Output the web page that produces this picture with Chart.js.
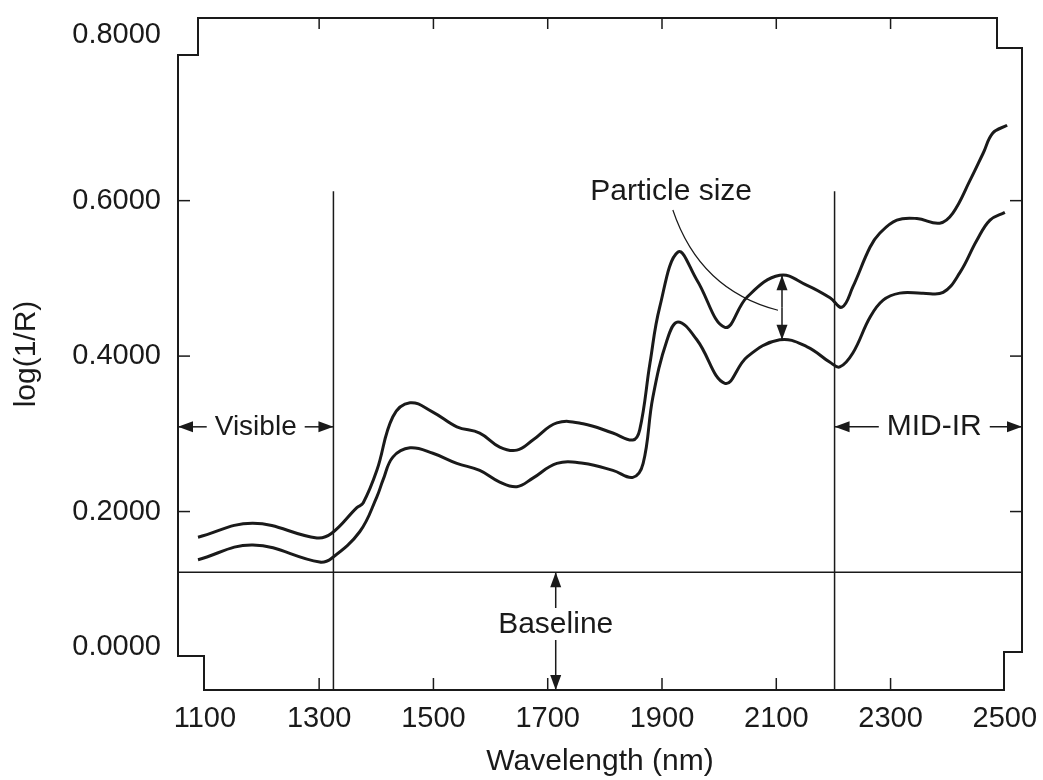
<!DOCTYPE html>
<html>
<head>
<meta charset="utf-8">
<script src="https://cdn.jsdelivr.net/npm/chart.js@4.4.1/dist/chart.umd.min.js"></script>
<style>
    body { margin: 0; background: #fff; }
    #wrap { width: 1043px; height: 780px; }
</style>
</head>
<body>
<div id="wrap"><canvas id="spectrum_canvas"></canvas></div>
<script>
// two NIR spectra of the same sample, different particle size
const upper_wavelength = [1088, 1184, 1296, 1322, 1366, 1377, 1401, 1429, 1459, 1499, 1541, 1581, 1616, 1646, 1674, 1716, 1762, 1814, 1849, 1861, 1879, 1896, 1928, 1961, 2010, 2049, 2106, 2154, 2194, 2215, 2234, 2264, 2281, 2311, 2346, 2386, 2409, 2439, 2462, 2479, 2504];
const upper_log_r = [0.167, 0.185, 0.166, 0.172, 0.205, 0.211, 0.253, 0.322, 0.340, 0.328, 0.309, 0.301, 0.283, 0.279, 0.292, 0.314, 0.313, 0.301, 0.292, 0.305, 0.391, 0.463, 0.534, 0.498, 0.437, 0.476, 0.504, 0.491, 0.475, 0.463, 0.489, 0.540, 0.558, 0.575, 0.577, 0.571, 0.584, 0.626, 0.661, 0.687, 0.697];

const lower_wavelength = [1088, 1184, 1301, 1322, 1371, 1401, 1412, 1429, 1459, 1499, 1541, 1581, 1616, 1646, 1674, 1716, 1762, 1814, 1849, 1867, 1884, 1909, 1928, 1961, 2010, 2049, 2106, 2154, 2194, 2211, 2234, 2264, 2287, 2316, 2356, 2392, 2421, 2451, 2474, 2500];
const lower_log_r = [0.138, 0.157, 0.135, 0.140, 0.174, 0.219, 0.241, 0.270, 0.282, 0.275, 0.262, 0.253, 0.238, 0.232, 0.243, 0.262, 0.262, 0.253, 0.244, 0.262, 0.347, 0.421, 0.444, 0.421, 0.365, 0.399, 0.421, 0.412, 0.392, 0.386, 0.404, 0.450, 0.472, 0.481, 0.481, 0.482, 0.507, 0.549, 0.575, 0.585];

const x_ticks = [1100, 1300, 1500, 1700, 1900, 2100, 2300, 2500];
const y_tick_labels = ["0.0000", "0.2000", "0.4000", "0.6000", "0.8000"];
// the printed labels in the original: outer two sit a bit inward of their true level
const y_tick_spots = [0.026, 0.2, 0.4, 0.6, 0.813];
const x_frame_ticks = [1300, 1500, 1700, 1900, 2100, 2300];
const y_frame_ticks = [0.2, 0.4, 0.6];

const visible_edge = 1325;
const mid_ir_edge = 2202;
const region_top = 0.612;
const baseline_level = 0.122;
const baseline_at = 1714;
const particle_at = 2110;
const particle_top = 0.504;
const particle_bottom = 0.421;

const ink = "#1a1a1a";
const font_family = "'Liberation Sans', Arial, sans-serif";

function to_points(xs, ys) {
    return xs.map((x, i) => ({x: x, y: ys[i]}));
}

function arrow_head(ctx, x, y, angle) {
    const len = 15, half = 5.5;
    ctx.save();
    ctx.translate(x, y);
    ctx.rotate(angle);
    ctx.beginPath();
    ctx.moveTo(0, 0);
    ctx.lineTo(-len, -half);
    ctx.lineTo(-len, half);
    ctx.closePath();
    ctx.fill();
    ctx.restore();
}

function arrow(ctx, x0, y0, x1, y1) {
    ctx.beginPath();
    ctx.moveTo(x0, y0);
    ctx.lineTo(x1, y1);
    ctx.stroke();
    arrow_head(ctx, x1, y1, Math.atan2(y1 - y0, x1 - x0));
}

function line(ctx, x0, y0, x1, y1) {
    ctx.beginPath();
    ctx.moveTo(x0, y0);
    ctx.lineTo(x1, y1);
    ctx.stroke();
}

const figure_marks = {
    id: "figure_marks",
    afterDatasetsDraw(chart) {
        const ctx = chart.ctx;
        const a = chart.chartArea;
        const xs = chart.scales.x;
        const ys = chart.scales.y;
        const px = v => xs.getPixelForValue(v);
        const py = v => ys.getPixelForValue(v);

        ctx.save();
        ctx.strokeStyle = ink;
        ctx.fillStyle = ink;

        // notched frame
        ctx.lineWidth = 2;
        ctx.beginPath();
        ctx.moveTo(a.left + 20, a.top);
        ctx.lineTo(a.right - 25, a.top);
        ctx.lineTo(a.right - 25, a.top + 30);
        ctx.lineTo(a.right, a.top + 30);
        ctx.lineTo(a.right, a.bottom - 38);
        ctx.lineTo(a.right - 18, a.bottom - 38);
        ctx.lineTo(a.right - 18, a.bottom);
        ctx.lineTo(a.left + 26, a.bottom);
        ctx.lineTo(a.left + 26, a.bottom - 34);
        ctx.lineTo(a.left, a.bottom - 34);
        ctx.lineTo(a.left, a.top + 37);
        ctx.lineTo(a.left + 20, a.top + 37);
        ctx.closePath();
        ctx.stroke();

        // inward ticks
        ctx.lineWidth = 1.5;
        for (const v of x_frame_ticks) {
            line(ctx, px(v), a.bottom, px(v), a.bottom - 12);
            line(ctx, px(v), a.top, px(v), a.top + 11);
        }
        for (const v of y_frame_ticks) {
            line(ctx, a.left, py(v), a.left + 12, py(v));
            line(ctx, a.right, py(v), a.right - 12, py(v));
        }

        // region dividers and baseline
        line(ctx, px(visible_edge), py(region_top), px(visible_edge), a.bottom);
        line(ctx, px(mid_ir_edge), py(region_top), px(mid_ir_edge), a.bottom);
        line(ctx, a.left, py(baseline_level), a.right, py(baseline_level));

        ctx.textBaseline = "middle";
        ctx.textAlign = "center";

        // Visible
        const vis_y = py(0.309);
        const vis_cx = (a.left + px(visible_edge)) / 2;
        ctx.font = "28px " + font_family;
        ctx.fillText("Visible", vis_cx, vis_y);
        let w = ctx.measureText("Visible").width / 2;
        arrow(ctx, vis_cx - w - 8, vis_y, a.left, vis_y);
        arrow(ctx, vis_cx + w + 8, vis_y, px(visible_edge), vis_y);

        // MID-IR
        const mid_cx = (px(mid_ir_edge) + a.right) / 2 + 6;
        ctx.font = "30px " + font_family;
        ctx.fillText("MID-IR", mid_cx, vis_y);
        w = ctx.measureText("MID-IR").width / 2;
        arrow(ctx, mid_cx - w - 8, vis_y, px(mid_ir_edge), vis_y);
        arrow(ctx, mid_cx + w + 8, vis_y, a.right, vis_y);

        // Baseline
        const bx = px(baseline_at);
        const by = py(0.054);
        ctx.fillText("Baseline", bx, by);
        arrow(ctx, bx, by - 17, bx, py(baseline_level));
        arrow(ctx, bx, by + 15, bx, a.bottom);

        // Particle size
        ctx.fillText("Particle size", px(1916), py(0.611));
        ctx.lineWidth = 1.2;
        ctx.beginPath();
        ctx.moveTo(px(1919), py(0.588));
        ctx.quadraticCurveTo(px(1966), py(0.485), px(2103), py(0.459));
        ctx.stroke();
        ctx.lineWidth = 1.5;
        const mid = (py(particle_top) + py(particle_bottom)) / 2;
        arrow(ctx, px(particle_at), mid, px(particle_at), py(particle_top));
        arrow(ctx, px(particle_at), mid, px(particle_at), py(particle_bottom));

        ctx.restore();
    }
};

const config = {
    type: "line",
    data: {
        datasets: [
            {
                label: "coarse",
                data: to_points(upper_wavelength, upper_log_r),
                borderColor: ink,
                borderWidth: 3,
                pointRadius: 0,
                tension: 0.4
            },
            {
                label: "fine",
                data: to_points(lower_wavelength, lower_log_r),
                borderColor: ink,
                borderWidth: 3,
                pointRadius: 0,
                tension: 0.4
            }
        ]
    },
    options: {
        responsive: true,
        maintainAspectRatio: false,
        animation: false,
        layout: {
            padding: {top: 18, right: 21, left: 0, bottom: 0}
        },
        plugins: {
            legend: {display: false},
            tooltip: {enabled: false}
        },
        scales: {
            x: {
                type: "linear",
                min: 1053,
                max: 2530,
                afterBuildTicks: (axis) => { axis.ticks = x_ticks.map(v => ({value: v})); },
                afterFit: (axis) => {
                    axis.height = 90;
                    axis.paddingLeft = 0;
                    axis.paddingRight = 0;
                },
                grid: {display: false, drawTicks: false},
                border: {display: false},
                ticks: {
                    color: ink,
                    padding: 12,
                    maxRotation: 0,
                    callback: (value) => String(value),
                    font: {family: font_family, size: 29}
                },
                title: {
                    display: true,
                    text: "Wavelength (nm)",
                    color: ink,
                    padding: {top: 0, bottom: 0},
                    font: {family: font_family, size: 30}
                }
            },
            y: {
                type: "linear",
                min: -0.0296,
                max: 0.835,
                afterBuildTicks: (axis) => { axis.ticks = y_tick_spots.map(v => ({value: v})); },
                afterFit: (axis) => {
                    axis.width = 178;
                    axis.paddingTop = 0;
                    axis.paddingBottom = 0;
                },
                grid: {display: false, drawTicks: false},
                border: {display: false},
                ticks: {
                    color: ink,
                    padding: 17,
                    callback: (value, index) => y_tick_labels[index],
                    font: {family: font_family, size: 29}
                },
                title: {
                    display: true,
                    text: "log(1/R)",
                    color: ink,
                    padding: {top: 9, bottom: 0},
                    font: {family: font_family, size: 30}
                }
            }
        }
    },
    plugins: [figure_marks]
};

const spectrum_plot = new Chart(document.getElementById("spectrum_canvas"), config);
</script>
</body>
</html>
